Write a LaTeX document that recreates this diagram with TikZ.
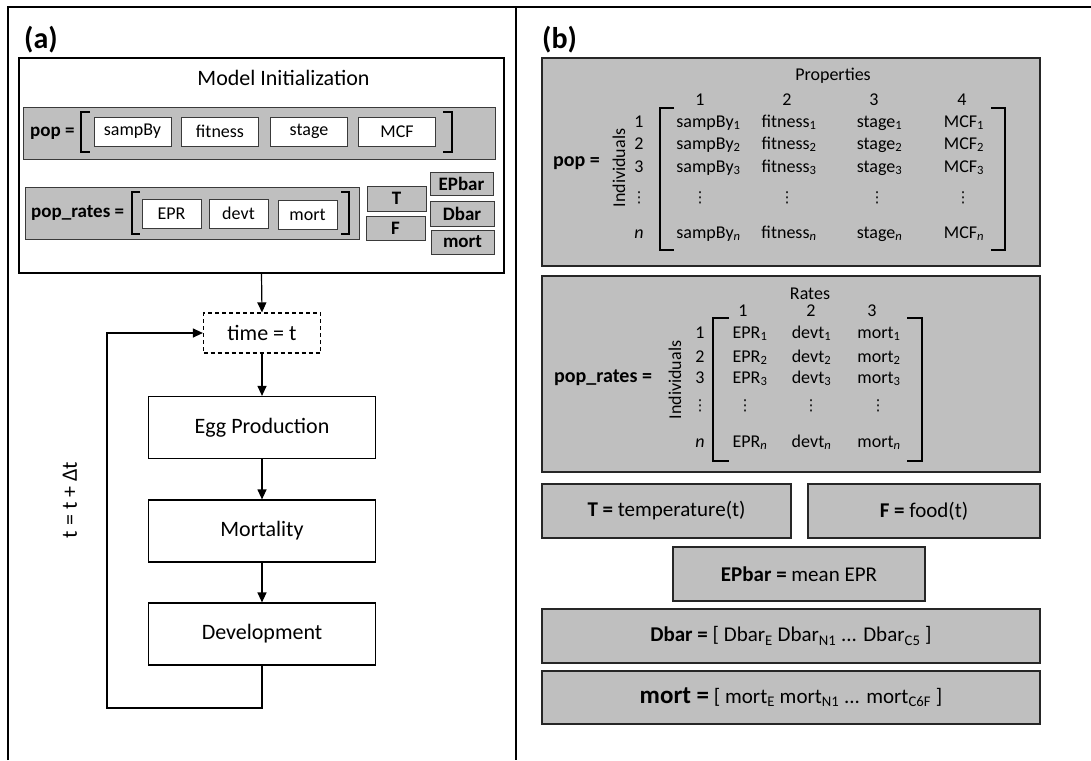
\documentclass[tikz,border=0pt]{standalone}
\usepackage{fontspec}
\setmainfont{Carlito}
\newfontfamily\dejavu{DejaVu Sans}
\usetikzlibrary{arrows.meta}
\definecolor{gfill}{HTML}{BFBFBF}
\definecolor{gline}{HTML}{3A3A3A}
\newcommand\vd{{\dejavu\fontsize{15}{16}\selectfont ⋮}}
\begin{document}
\begin{tikzpicture}[x=1pt,y=-1pt,
  frame/.style={line width=1.5pt},
  lbl/.style={font=\fontsize{30}{34}\selectfont\bfseries, anchor=west, inner sep=0},
  initbox/.style={draw=black, line width=1.5pt, fill=white, inner sep=0},
  graybar/.style={draw=gline, line width=1pt, fill=gfill, inner sep=0},
  wbox/.style={draw=gline, line width=1pt, fill=white, inner sep=0, font=\fontsize{18}{21}\selectfont, minimum width=59, minimum height=29},
  smallg/.style={graybar, font=\fontsize{19}{22}\selectfont\bfseries},
  blab/.style={font=\fontsize{19}{22}\selectfont\bfseries, anchor=west, inner sep=0},
  brk/.style={line width=1.5pt},
  flow/.style={draw=black, line width=1.2pt, fill=white, inner sep=0, font=\fontsize{22}{26}\selectfont, minimum width=227, minimum height=62},
  arr/.style={line width=1.2pt, -{Triangle[length=10pt,width=9pt]}},
  bigg/.style={draw=black!85, line width=1.5pt, fill=gfill, inner sep=0, font=\fontsize{21}{25}\selectfont},
  mtx/.style={font=\fontsize{18}{21}\selectfont, anchor=base, inner sep=0},
  dotsn/.style={anchor=base, inner sep=0},
  rot/.style={font=\fontsize{18}{21}\selectfont, rotate=90, inner sep=0}
]
\useasboundingbox (0,0) rectangle (1091,760);
% frame
\draw[frame] (8,760) -- (8,7) -- (1091,7);
\draw[frame] (516,7) -- (516,760);
\node[lbl] (la) at (24,39.5) {(a)};
\node[lbl] (lb) at (542,39.5) {(b)};

% ---------- panel (a): initialization ----------
\node[initbox, minimum width=485, minimum height=215] (init) at (261.5,165.5) {};
\node[font=\fontsize{22}{26}\selectfont, inner sep=0] (inittitle) at (283.5,78) {Model Initialization};

\node[graybar, minimum width=472, minimum height=52] (popbar) at (259,133) {};
\node[blab] (poplbl) at (30,133) {pop =};
\draw[brk] (90,112) -| (81,152) -- (90,152);
\draw[brk] (443,112) -| (452,152) -- (443,152);
\node[wbox, minimum width=77] (wa) at (132.5,131.5) {sampBy};
\node[wbox, minimum width=77] (wb) at (220,131.5) {fitness};
\node[wbox, minimum width=77] (wc) at (309,131.5) {stage};
\node[wbox, minimum width=77] (wd) at (397,131.5) {MCF};

\node[graybar, minimum width=334, minimum height=52] (prbar) at (192,213) {};
\node[blab] (prlbl) at (31,213) {pop\_rates =};
\draw[brk] (140,192) -| (132,234) -- (140,234);
\draw[brk] (341,192) -| (349,234) -- (341,234);
\node[wbox] (we) at (171.5,213.5) {EPR};
\node[wbox] (wf) at (238.5,213.5) {devt};
\node[wbox] (wg) at (307.5,214.5) {mort};

\node[smallg, minimum width=59, minimum height=25] (sT) at (396.5,198.5) {T};
\node[smallg, minimum width=59, minimum height=24] (sF) at (395.5,228) {F};
\node[smallg, minimum width=63, minimum height=23] (sE) at (461.5,183.5) {EPbar};
\node[smallg, minimum width=64, minimum height=25] (sD) at (462,213.5) {Dbar};
\node[smallg, minimum width=63, minimum height=24] (sM) at (462.5,242) {mort};

% ---------- panel (a): loop ----------
\node[flow, dashed, dash pattern=on 4pt off 3pt, minimum width=117, minimum height=40] (time) at (262,333) {time = t};
\node[flow] (egg) at (262,427.5) {Egg Production};
\node[flow] (mortal) at (262,531) {Mortality};
\node[flow] (dev) at (262,634) {Development};
\draw[arr] (init.south) -- (time.north);
\draw[arr] (time.south) -- (egg.north);
\draw[arr] (egg.south) -- (mortal.north);
\draw[arr] (mortal.south) -- (dev.north);
\coordinate (lp1) at (262,708);
\coordinate (lp2) at (107,708);
\coordinate (lp3) at (107,333);
\draw[arr] (dev.south) -- (lp1) -- (lp2) -- (lp3) -- (time.west);
\node[font=\fontsize{22}{26}\selectfont, rotate=90, inner sep=0] (dtl) at (70,500) {t = t + Δt};

% ---------- panel (b): pop matrix ----------
\node[bigg, minimum width=498, minimum height=208] (popbig) at (791,162) {};
\node[mtx] (props) at (833,81) {Properties};
\foreach \x/\k in {700/1,787/2,874/3,962/4} \node[mtx] (ph\k) at (\x,105) {\k};
\foreach \y/\k in {127/1,149/2,172/3} \node[mtx] (pr\k) at (639,\y) {\k};
\node[dotsn] (prv) at (639,202) {\vd};
\node[mtx] (prn) at (639,238) {\textit{n}};
\foreach \y/\s/\i in {127/1/1,149/2/2,172/3/3,238/{\textit{n}}/n} {
  \node[mtx] (pa\i) at (708.5,\y) {sampBy\textsubscript{\s}};
  \node[mtx] (pb\i) at (789,\y) {fitness\textsubscript{\s}};
  \node[mtx] (pc\i) at (879.5,\y) {stage\textsubscript{\s}};
  \node[mtx] (pd\i) at (964,\y) {MCF\textsubscript{\s}};
}
\foreach \x/\i in {700/a,787/b,877/c,963/d} \node[dotsn] (p\i v) at (\x,202) {\vd};
\node[rot] (ind1) at (619,168) {Individuals};
\node[font=\fontsize{20}{24}\selectfont\bfseries, anchor=west, inner sep=0] (pop2) at (553,163) {pop =};
\draw[brk] (674,108) -| (660,250) -- (674,250);
\draw[brk] (991,108) -| (1005,250) -- (991,250);

% ---------- panel (b): pop_rates matrix ----------
\node[bigg, minimum width=498, minimum height=196] (prbig) at (791,374) {};
\node[mtx] (rates) at (810,299) {Rates};
\foreach \x/\k in {743/1,811/2,872/3} \node[mtx] (rh\k) at (\x,316) {\k};
\foreach \y/\k in {338/1,362/2,383/3} \node[mtx] (rr\k) at (700,\y) {\k};
\node[dotsn] (rrv) at (700,410) {\vd};
\node[mtx] (rrn) at (700,447) {\textit{n}};
\foreach \y/\s/\i in {338/1/1,362/2/2,383/3/3,447/{\textit{n}}/n} {
  \node[mtx] (ra\i) at (750,\y) {EPR\textsubscript{\s}};
  \node[mtx] (rb\i) at (811.5,\y) {devt\textsubscript{\s}};
  \node[mtx] (rc\i) at (879,\y) {mort\textsubscript{\s}};
}
\foreach \x/\i in {745/a,811/b,878/c} \node[dotsn] (r\i v) at (\x,410) {\vd};
\node[rot] (ind2) at (675,380) {Individuals};
\node[font=\fontsize{20}{24}\selectfont\bfseries, anchor=west, inner sep=0] (prates2) at (554,378) {pop\_rates =};
\draw[brk] (729,318) -| (713,461) -- (729,461);
\draw[brk] (907,318) -| (922,461) -- (907,461);

% ---------- panel (b): other variables ----------
\node[bigg, minimum width=249, minimum height=54] (Tb) at (666.5,511) {\textbf{T =} temperature(t)};
\node[bigg, minimum width=232, minimum height=54] (Fb) at (924,511) {\textbf{F =} food(t)};
\node[bigg, minimum width=252, minimum height=54] (EPb) at (799,574) {\textbf{EPbar =} mean EPR};
\node[bigg, minimum width=498, minimum height=54] (Db) at (791,636) {\textbf{Dbar =} [ Dbar\textsubscript{E} Dbar\textsubscript{N1} ... Dbar\textsubscript{C5} ]};
\node[bigg, minimum width=498, minimum height=53] (Mb) at (791,697.5) {{\fontsize{25}{30}\selectfont\bfseries mort =} [ mort\textsubscript{E} mort\textsubscript{N1} ... mort\textsubscript{C6F} ]};
\end{tikzpicture}
\end{document}
